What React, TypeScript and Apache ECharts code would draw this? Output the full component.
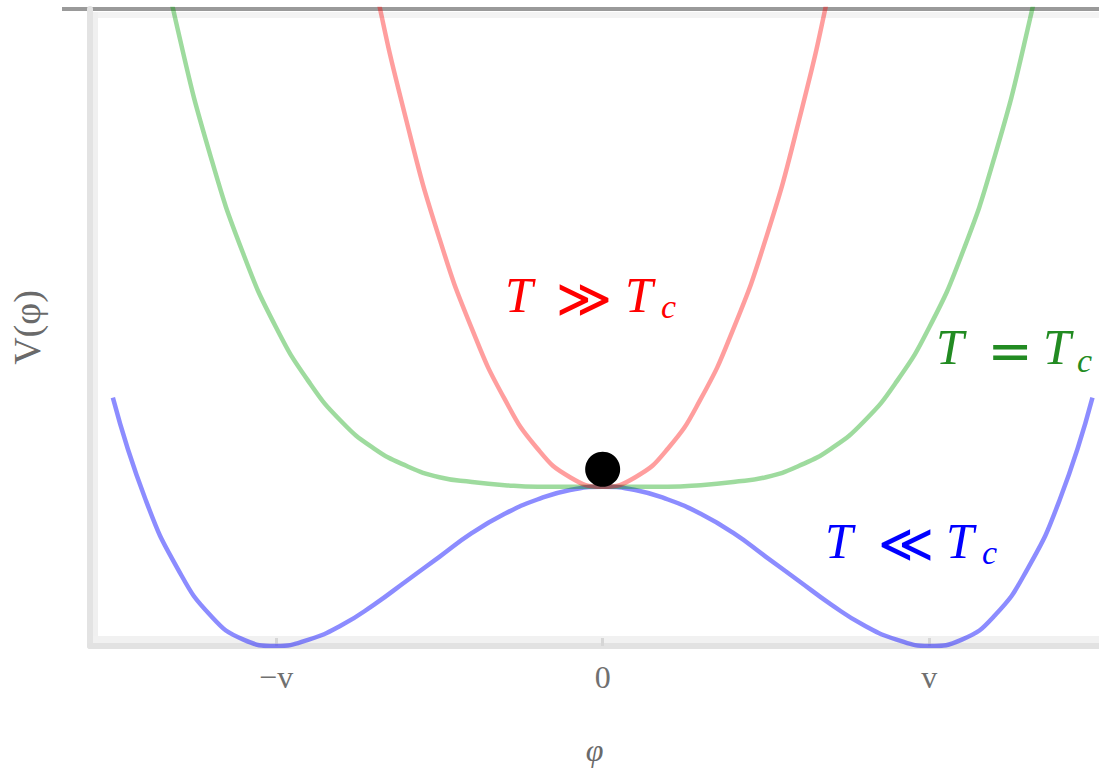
import React, { useEffect, useRef } from "react";
import * as echarts from "echarts";

// Field values φ (in units of v) and potential heights V(φ) for each temperature regime
const phiBlue = [-1.5, -1.4, -1.3, -1.2, -1.1, -1.0, -0.9, -0.8, -0.7, -0.6, -0.5, -0.4, -0.3, -0.2, -0.1, 0, 0.1, 0.2, 0.3, 0.4, 0.5, 0.6, 0.7, 0.8, 0.9, 1.0, 1.1, 1.2, 1.3, 1.4, 1.5];
const vBlue = [1.56, 0.92, 0.48, 0.19, 0.04, 0, 0.04, 0.13, 0.26, 0.41, 0.56, 0.71, 0.83, 0.92, 0.98, 1.0, 0.98, 0.92, 0.83, 0.71, 0.56, 0.41, 0.26, 0.13, 0.04, 0, 0.04, 0.19, 0.48, 0.92, 1.56];

const phiGreen = [-1.4, -1.3, -1.2, -1.1, -1.0, -0.9, -0.8, -0.7, -0.6, -0.5, -0.4, -0.3, -0.2, -0.1, 0, 0.1, 0.2, 0.3, 0.4, 0.5, 0.6, 0.7, 0.8, 0.9, 1.0, 1.1, 1.2, 1.3, 1.4];
const vGreen = [4.84, 3.86, 3.07, 2.46, 2.0, 1.66, 1.41, 1.24, 1.13, 1.06, 1.03, 1.01, 1.0, 1.0, 1.0, 1.0, 1.0, 1.01, 1.03, 1.06, 1.13, 1.24, 1.41, 1.66, 2.0, 2.46, 3.07, 3.86, 4.84];

const phiRed = [-0.8, -0.7, -0.6, -0.5, -0.4, -0.3, -0.2, -0.1, 0, 0.1, 0.2, 0.3, 0.4, 0.5, 0.6, 0.7, 0.8];
const vRed = [5.25, 4.18, 3.29, 2.56, 1.99, 1.55, 1.24, 1.06, 1.0, 1.06, 1.24, 1.55, 1.99, 2.56, 3.29, 4.18, 5.25];

// Marker resting on the symmetric point
const ballPoint = [0, 1.11];

// Axis ticks at −v, 0, v
const tickValues = [-1, 0, 1];
const tickLabels = ["−v", "0", "v"];

const zip = (xs: number[], ys: number[]) => xs.map((x, i) => [x, ys[i]]);

export default function App() {
  const ref = useRef<HTMLDivElement>(null);

  useEffect(() => {
    if (!ref.current) return;
    const chart = echarts.init(ref.current, undefined, { renderer: "svg" });

    const serif = '"Liberation Serif", "DejaVu Serif", serif';
    const relFont = '54px "DejaVu Sans", sans-serif';
    const txt = (
      text: string,
      x: number,
      y: number,
      font: string,
      fill: string,
      align = "left"
    ) => ({
      type: "text",
      x,
      y,
      z: 20,
      style: {
        text,
        font,
        fill,
        align,
        verticalAlign: "middle",
        textAlign: align,
        textVerticalAlign: "middle",
      },
    });

    const option: any = {
      animation: false,
      backgroundColor: "#ffffff",
      grid: { left: 89, right: 0, top: 9, bottom: 127 },
      xAxis: {
        type: "value",
        min: -1.57,
        max: 1.52,
        name: "φ",
        nameLocation: "middle",
        nameGap: 88,
        nameTextStyle: {
          fontFamily: serif,
          fontStyle: "italic",
          fontSize: 32,
          color: "#6a6a6a",
        },
        axisLine: { show: true, onZero: false, lineStyle: { color: "#e2e2e2", width: 6 } },
        axisTick: {
          show: true,
          inside: true,
          length: 8,
          customValues: tickValues,
          lineStyle: { color: "#d6d6d6", width: 3 },
        },
        axisLabel: {
          show: true,
          customValues: tickValues,
          margin: 15,
          fontFamily: serif,
          fontSize: 32,
          color: "#707070",
          formatter: (v: number) => tickLabels[tickValues.indexOf(Math.round(v))] ?? "",
        },
        splitLine: { show: false },
      },
      yAxis: {
        type: "value",
        min: 0,
        max: 4,
        name: "V(φ)",
        nameLocation: "middle",
        nameGap: 44,
        nameRotate: 90,
        nameTextStyle: {
          fontFamily: serif,
          fontSize: 38,
          color: "#6a6a6a",
        },
        axisLine: { show: true, onZero: false, lineStyle: { color: "#e3e3e3", width: 6 } },
        axisTick: { show: false },
        axisLabel: { show: false },
        splitLine: { show: false },
      },
      graphic: [
        // frame: dark top rule and the light inner edges of the axes
        { type: "rect", z: 0, shape: { x: 62, y: 7, width: 1037, height: 4 }, style: { fill: "#9a9a9a" } },
        { type: "rect", z: 0, shape: { x: 92, y: 12, width: 1007, height: 6 }, style: { fill: "#f3f3f3" } },
        { type: "rect", z: 0, shape: { x: 92, y: 12, width: 6, height: 631 }, style: { fill: "#f0f0f0" } },
        { type: "rect", z: 0, shape: { x: 92, y: 636, width: 1007, height: 7 }, style: { fill: "#f1f1f1" } },

        // T ≫ T_c
        txt("T", 505, 295, `italic 50px ${serif}`, "#ff0000"),
        txt("≫", 584, 298, relFont, "#ff0000", "center"),
        txt("T", 625, 295, `italic 50px ${serif}`, "#ff0000"),
        txt("c", 661, 306, `italic 34px ${serif}`, "#ff0000"),

        // T = T_c
        txt("T", 936, 347, `italic 50px ${serif}`, "#228b22"),
        txt("=", 1010, 350, relFont, "#228b22", "center"),
        txt("T", 1043, 347, `italic 50px ${serif}`, "#228b22"),
        txt("c", 1077, 360, `italic 34px ${serif}`, "#228b22"),

        // T ≪ T_c
        txt("T", 825, 541, `italic 50px ${serif}`, "#0000ff"),
        txt("≪", 906, 543, relFont, "#0000ff", "center"),
        txt("T", 946, 541, `italic 50px ${serif}`, "#0000ff"),
        txt("c", 982, 552, `italic 34px ${serif}`, "#0000ff"),
      ],
      series: [
        {
          type: "line",
          data: zip(phiBlue, vBlue),
          smooth: true,
          showSymbol: false,
          clip: true,
          lineStyle: { color: "rgba(0,0,255,0.45)", width: 4.5 },
          z: 3,
        },
        {
          type: "line",
          data: zip(phiGreen, vGreen),
          smooth: true,
          showSymbol: false,
          clip: true,
          lineStyle: { color: "rgba(0,160,0,0.38)", width: 4.5 },
          z: 4,
        },
        {
          type: "line",
          data: zip(phiRed, vRed),
          smooth: true,
          showSymbol: false,
          clip: true,
          lineStyle: { color: "rgba(255,0,0,0.38)", width: 4.5 },
          z: 5,
        },
        {
          type: "scatter",
          data: [ballPoint],
          symbol: "circle",
          symbolSize: 35,
          itemStyle: { color: "#000000", opacity: 1 },
          z: 6,
        },
      ],
    };

    chart.setOption(option);
    return () => chart.dispose();
  }, []);

  return (
    <div
      ref={ref}
      style={{ position: "absolute", left: 0, top: 0, width: 1099, height: 773 }}
    />
  );
}
